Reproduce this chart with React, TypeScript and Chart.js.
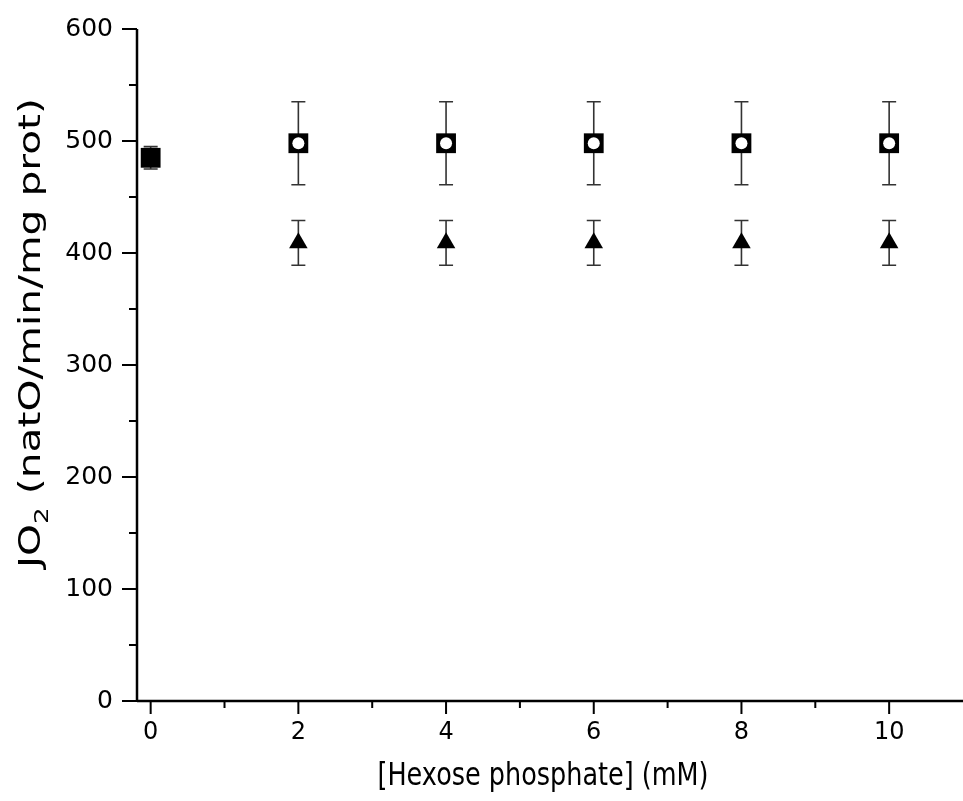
import React, { useEffect, useRef } from "react";
import { Chart, registerables } from "chart.js";

Chart.register(...registerables);

// ---- data ----
const controlX = [0];
const controlMean = [485];
const controlErr = [10];

const hexoseX = [2, 4, 6, 8, 10];
const squareMean = [498, 498, 498, 498, 498];
const squareErr = [37, 37, 37, 37, 37];
const triangleMean = [409, 409, 409, 409, 409];
const triangleErr = [20, 20, 20, 20, 20];

const xTickValues = [0, 2, 4, 6, 8, 10];
const xMinorValues = [1, 3, 5, 7, 9];
const yTickValues = [0, 100, 200, 300, 400, 500, 600];
const yMinorValues = [50, 150, 250, 350, 450, 550];

const xTitle = "[Hexose phosphate] (mM)";
const yTitleMain = "JO";
const yTitleSub = "2";
const yTitleRest = " (natO/min/mg prot)";

const FONT = "'DejaVu Sans', 'Noto Sans', sans-serif";

const toPoints = (xs: number[], ys: number[]) => xs.map((x, i) => ({ x, y: ys[i] }));

const errorGroups = [
  { xs: controlX, means: controlMean, errs: controlErr },
  { xs: hexoseX, means: squareMean, errs: squareErr },
  { xs: hexoseX, means: triangleMean, errs: triangleErr },
];

const axesAndErrors = {
  id: "axesAndErrors",
  beforeDatasetsDraw(chart: any) {
    const ctx = chart.ctx;
    const xs = chart.scales.x;
    const ys = chart.scales.y;
    const { left, right, top, bottom } = chart.chartArea;
    ctx.save();
    // error bars
    ctx.strokeStyle = "#333";
    ctx.lineWidth = 1.6;
    const cap = 7;
    errorGroups.forEach((g) => {
      g.xs.forEach((xv, i) => {
        const px = xs.getPixelForValue(xv);
        const pTop = ys.getPixelForValue(g.means[i] + g.errs[i]);
        const pBot = ys.getPixelForValue(g.means[i] - g.errs[i]);
        ctx.beginPath();
        ctx.moveTo(px, pTop);
        ctx.lineTo(px, pBot);
        ctx.moveTo(px - cap, pTop);
        ctx.lineTo(px + cap, pTop);
        ctx.moveTo(px - cap, pBot);
        ctx.lineTo(px + cap, pBot);
        ctx.stroke();
      });
    });
    // axes
    ctx.strokeStyle = "#000";
    ctx.lineWidth = 2.5;
    ctx.beginPath();
    ctx.moveTo(left, top);
    ctx.lineTo(left, bottom + 1);
    ctx.moveTo(left, bottom);
    ctx.lineTo(right, bottom);
    ctx.stroke();
    ctx.lineWidth = 2;
    ctx.beginPath();
    yTickValues.forEach((v) => {
      const py = ys.getPixelForValue(v);
      ctx.moveTo(left - 15, py);
      ctx.lineTo(left, py);
    });
    yMinorValues.forEach((v) => {
      const py = ys.getPixelForValue(v);
      ctx.moveTo(left - 8, py);
      ctx.lineTo(left, py);
    });
    xTickValues.forEach((v) => {
      const px = xs.getPixelForValue(v);
      ctx.moveTo(px, bottom);
      ctx.lineTo(px, bottom + 13);
    });
    xMinorValues.forEach((v) => {
      const px = xs.getPixelForValue(v);
      ctx.moveTo(px, bottom);
      ctx.lineTo(px, bottom + 7);
    });
    ctx.stroke();
    ctx.restore();
  },
  afterDraw(chart: any) {
    const ctx = chart.ctx;
    ctx.save();
    ctx.fillStyle = "#000";
    // x title (slightly stretched vertically like the reference)
    ctx.font = `25.5px ${FONT}`;
    ctx.textAlign = "center";
    ctx.textBaseline = "alphabetic";
    ctx.save();
    ctx.translate(543, 785);
    ctx.scale(1, 1.25);
    ctx.fillText(xTitle, 0, 0);
    ctx.restore();
    // y title, rotated, with subscript
    const mainFont = `31px ${FONT}`;
    const subFont = `20px ${FONT}`;
    ctx.font = mainFont;
    const w1 = ctx.measureText(yTitleMain).width;
    const w3 = ctx.measureText(yTitleRest).width;
    ctx.font = subFont;
    const w2 = ctx.measureText(yTitleSub).width;
    const total = w1 + w2 + w3;
    const targetLen = 470;
    const sx = targetLen / total;
    ctx.translate(40, 333);
    ctx.rotate(-Math.PI / 2);
    ctx.scale(sx, 1);
    ctx.textAlign = "left";
    let cx = -total / 2;
    ctx.font = mainFont;
    ctx.fillText(yTitleMain, cx, 0);
    cx += w1;
    ctx.font = subFont;
    ctx.fillText(yTitleSub, cx, 8);
    cx += w2;
    ctx.font = mainFont;
    ctx.fillText(yTitleRest, cx, 0);
    ctx.restore();
  },
};

export default function App() {
  const ref = useRef<HTMLCanvasElement | null>(null);
  useEffect(() => {
    if (!ref.current) return;
    const chart = new Chart(ref.current, {
      type: "scatter",
      data: {
        datasets: [
          {
            label: "circle",
            data: toPoints(hexoseX, squareMean),
            pointStyle: "circle",
            pointRadius: 6,
            pointHoverRadius: 6,
            backgroundColor: "#fff",
            borderWidth: 0,
            order: 0,
          },
          {
            label: "control",
            data: toPoints(controlX, controlMean),
            pointStyle: "rect",
            pointRadius: 14,
            pointHoverRadius: 14,
            backgroundColor: "#000",
            borderWidth: 0,
            order: 1,
          },
          {
            label: "square",
            data: toPoints(hexoseX, squareMean),
            pointStyle: "rect",
            pointRadius: 14,
            pointHoverRadius: 14,
            backgroundColor: "#000",
            borderWidth: 0,
            order: 1,
          },
          {
            label: "triangle",
            data: toPoints(hexoseX, triangleMean),
            pointStyle: "triangle",
            pointRadius: 10.7,
            pointHoverRadius: 10.7,
            backgroundColor: "#000",
            borderWidth: 0,
            order: 1,
          },
        ],
      },
      options: {
        animation: false,
        responsive: false,
        layout: { autoPadding: false, padding: { top: 29, left: 0, right: 0, bottom: 0 } },
        plugins: { legend: { display: false }, tooltip: { enabled: false } },
        events: [],
        scales: {
          x: {
            type: "linear",
            min: -0.185,
            max: 11,
            grid: { display: false, drawTicks: false },
            border: { display: false },
            afterBuildTicks: (s: any) => {
              s.ticks = xTickValues.map((v) => ({ value: v }));
            },
            afterFit: (s: any) => {
              s.height = 100;
              s.paddingLeft = 0;
              s.paddingRight = 0;
            },
            ticks: {
              padding: 17,
              color: "#000",
              font: { family: FONT, size: 24 },
              maxRotation: 0,
              autoSkip: false,
            },
          },
          y: {
            type: "linear",
            min: 0,
            max: 600,
            grid: { display: false, drawTicks: false },
            border: { display: false },
            afterBuildTicks: (s: any) => {
              s.ticks = yTickValues.map((v) => ({ value: v }));
            },
            afterFit: (s: any) => {
              s.width = 137;
              s.paddingTop = 0;
              s.paddingBottom = 0;
            },
            ticks: {
              padding: 24,
              color: "#000",
              font: { family: FONT, size: 25 },
              autoSkip: false,
            },
          },
        },
      },
      plugins: [axesAndErrors],
    });
    return () => chart.destroy();
  }, []);
  return (
    <div style={{ position: "absolute", left: 0, top: 0, width: 963, height: 801, background: "#fff" }}>
      <canvas ref={ref} width={963} height={801} style={{ width: 963, height: 801, display: "block" }} />
    </div>
  );
}
